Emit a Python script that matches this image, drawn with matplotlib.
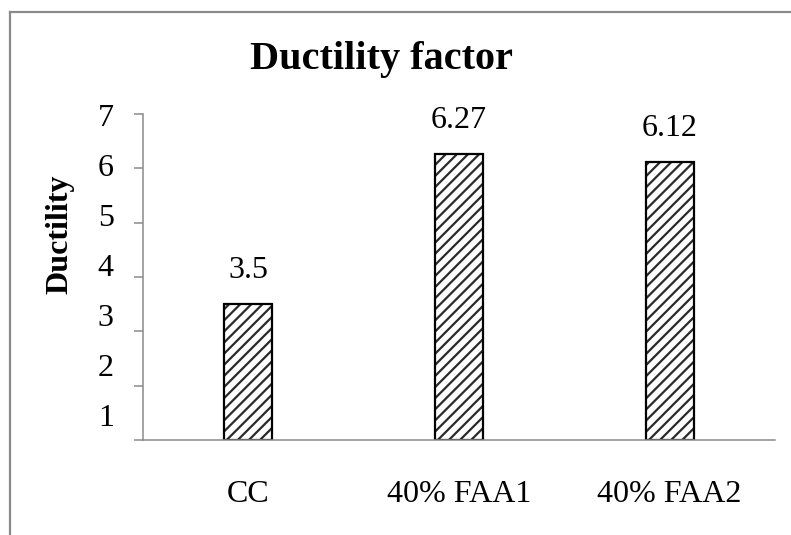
"""Bar chart of ductility factor for the control and fly-ash mixes."""

import matplotlib
matplotlib.use("Agg")
import matplotlib.pyplot as plt
from matplotlib.lines import Line2D

mixes = ["CC", "40% FAA1", "40% FAA2"]
ductility = [3.5, 6.27, 6.12]
y_ticks = [1, 2, 3, 4, 5, 6, 7]

plt.rcParams["font.family"] = ["Liberation Serif", "DejaVu Serif"]
plt.rcParams["hatch.linewidth"] = 1.6

AXIS_GREY = "#8a8a8a"


def main():
    fig = plt.figure(figsize=(7.91, 5.35), dpi=100)
    ax = fig.add_axes([0.1808, 0.1776, 0.799, 0.6093])

    x = range(len(mixes))
    # hatch fill first, then a plain black outline on top
    ax.bar(x, [v - 1 for v in ductility], bottom=1, width=0.228,
           color="white", edgecolor="#2a2a2a", hatch="///", linewidth=0)
    ax.bar(x, [v - 1 for v in ductility], bottom=1, width=0.228,
           fill=False, edgecolor="black", linewidth=1.6)

    for xi, v in zip(x, ductility):
        ax.annotate(f"{v:g}", (xi, v), xytext=(0, 24), textcoords="offset points",
                    ha="center", va="center", fontsize=23)

    ax.set_xlim(-0.5, len(mixes) - 0.5)
    ax.set_ylim(1, 7)
    ax.set_xticks(list(x))
    ax.set_xticklabels(mixes, fontsize=23)
    ax.tick_params(axis="x", length=0, pad=29)
    ax.set_yticks(y_ticks)
    ax.set_yticklabels([])
    ax.tick_params(axis="y", length=6.5, width=1.1, color=AXIS_GREY, direction="out")

    for side in ("top", "right"):
        ax.spines[side].set_visible(False)
    for side in ("left", "bottom"):
        ax.spines[side].set_color(AXIS_GREY)
        ax.spines[side].set_linewidth(1.1)

    # tick labels run on their own, slightly tighter scale
    lab = ax.twinx()
    lab.set_ylim(0.5, 7.02)
    lab.yaxis.tick_left()
    lab.set_yticks(y_ticks)
    lab.set_yticklabels([str(t) for t in y_ticks], fontsize=23)
    lab.tick_params(axis="y", length=0, pad=21)
    for s in lab.spines.values():
        s.set_visible(False)

    ax.set_ylabel("Ductility", fontsize=23, fontweight="bold")
    ax.yaxis.set_label_coords(-0.108, 0.63)

    fig.text(0.482, 0.888, "Ductility factor", ha="center", va="center",
             fontsize=29, fontweight="bold")

    # chart frame, only top and left edges
    fig.add_artist(Line2D([0.0126, 0.0126], [0, 0.978], color=AXIS_GREY,
                          linewidth=1.6, transform=fig.transFigure))
    fig.add_artist(Line2D([0.0126, 1.0], [0.978, 0.978], color=AXIS_GREY,
                          linewidth=1.6, transform=fig.transFigure))

    fig.savefig("out.png", dpi=100)


if __name__ == "__main__":
    main()
